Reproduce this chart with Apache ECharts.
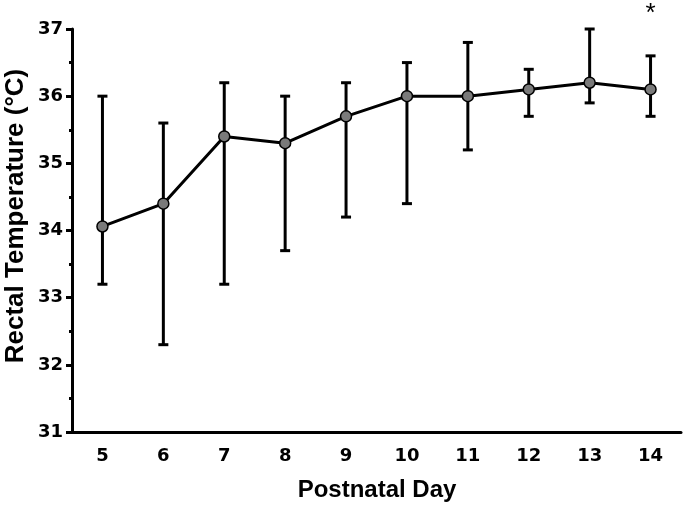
<!DOCTYPE html>
<html><head><meta charset="utf-8">
<script src="https://cdn.jsdelivr.net/npm/echarts@6/dist/echarts.min.js"></script>
<style>html,body{margin:0;padding:0;background:#fff}#c{width:685px;height:508px}</style>
</head><body><div id="c"></div>
<script>
const days = ['5','6','7','8','9','10','11','12','13','14'];
const meanTemp = [34.06, 34.4, 35.4, 35.3, 35.7, 36.0, 36.0, 36.1, 36.2, 36.1];
const lowerErr = [33.2, 32.3, 33.2, 33.7, 34.2, 34.4, 35.2, 35.7, 35.9, 35.7];
const upperErr = [36.0, 35.6, 36.2, 36.0, 36.2, 36.5, 36.8, 36.4, 37.0, 36.6];
const yTicks = [31, 32, 33, 34, 35, 36, 37];

const chart = echarts.init(document.getElementById('c'));
const font = 'Liberation Sans, Arial, sans-serif';
const tickFont = 'DejaVu Sans, sans-serif';
const errData = days.map((d, i) => [i, lowerErr[i], upperErr[i]]);
chart.setOption({
  animation: false,
  backgroundColor: '#fff',
  grid: {left: 72, right: 4, top: 29, bottom: 76, containLabel: false, outerBoundsMode: 'none'},
  graphic: [
    {type: 'text', silent: true, z: 10, x: 377, y: 490,
     style: {text: 'Postnatal Day', fontFamily: font, fontWeight: 'bold', fontSize: 24, fill: '#000', textAlign: 'center', textVerticalAlign: 'middle'}},
    {type: 'text', silent: true, z: 10, x: 16, y: 216, rotation: Math.PI / 2,
     style: {text: 'Rectal Temperature (°C)', fontFamily: font, fontWeight: 'bold', fontSize: 26, fill: '#000', textAlign: 'center', textVerticalAlign: 'middle'}}
  ],
  xAxis: {
    type: 'category', data: days, boundaryGap: true,
    axisLine: {lineStyle: {color: '#000', width: 3}},
    axisTick: {alignWithLabel: true, length: 6, lineStyle: {color: '#000', width: 3}},
    axisLabel: {fontFamily: tickFont, fontWeight: 'bold', fontSize: 18, color: '#000', margin: 15},
    splitLine: {show: false}
  },
  yAxis: {
    type: 'value', min: 31, max: 37, interval: 1,
    axisLine: {show: true, lineStyle: {color: '#000', width: 3}},
    axisTick: {show: true, length: 6, lineStyle: {color: '#000', width: 3}},
    minorTick: {show: true, splitNumber: 2, length: 3, lineStyle: {color: '#000', width: 3}},
    axisLabel: {fontFamily: tickFont, fontWeight: 'bold', fontSize: 18, color: '#000', margin: 9,
      formatter: v => yTicks.includes(v) ? String(v) : ''},
    splitLine: {show: false}
  },
  series: [
    {
      type: 'custom',
      data: errData,
      z: 2,
      clip: false,
      renderItem: function (params, api) {
        const x = api.value(0);
        const lo = api.coord([x, api.value(1)]);
        const hi = api.coord([x, api.value(2)]);
        const hw = 5;
        const st = {stroke: '#000', lineWidth: 3};
        return {type: 'group', children: [
          {type: 'line', shape: {x1: lo[0], y1: lo[1], x2: hi[0], y2: hi[1]}, style: st},
          {type: 'line', shape: {x1: lo[0]-hw, y1: lo[1], x2: lo[0]+hw, y2: lo[1]}, style: st},
          {type: 'line', shape: {x1: hi[0]-hw, y1: hi[1], x2: hi[0]+hw, y2: hi[1]}, style: st}
        ]};
      }
    },
    {
      type: 'line',
      data: meanTemp,
      z: 3,
      symbol: 'circle', symbolSize: 11,
      lineStyle: {color: '#000', width: 3},
      itemStyle: {color: '#7a7a7a', borderColor: '#000', borderWidth: 1.5},
      markPoint: {
        symbol: 'circle', symbolSize: 1,
        itemStyle: {color: 'rgba(0,0,0,0)'},
        label: {show: true, position: 'inside', formatter: '*', fontFamily: font, fontSize: 26, color: '#000', offset: [0, -15]},
        data: [{coord: ['14', 37]}]
      }
    }
  ]
});
</script></body></html>
